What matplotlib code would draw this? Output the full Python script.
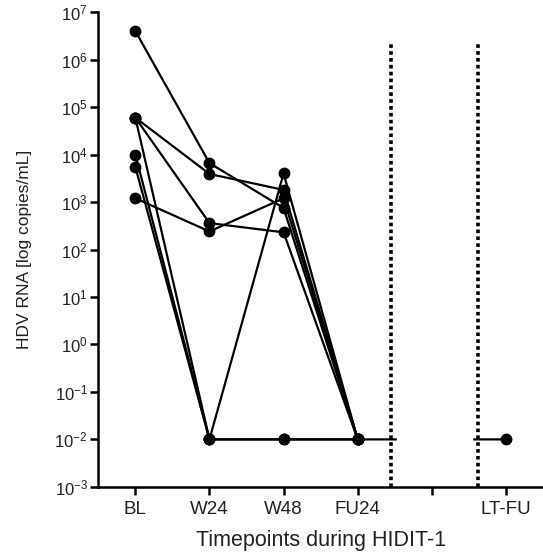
import numpy as np
import matplotlib
matplotlib.use("Agg")
import matplotlib.pyplot as plt
from matplotlib.ticker import FixedLocator, NullLocator

plt.rcParams['font.family'] = ['Liberation Sans', 'DejaVu Sans']
plt.rcParams['mathtext.fontset'] = 'custom'
plt.rcParams['mathtext.rm'] = 'Liberation Sans'
plt.rcParams['mathtext.it'] = 'Liberation Sans'
plt.rcParams['mathtext.bf'] = 'Liberation Sans'

timepoints = ["BL", "W24", "W48", "FU24", "", "LT-FU"]
xpos = [1, 2, 3, 4, 5, 6]

nan = np.nan
# HDV RNA per patient at BL, W24, W48, FU24, (gap), LT-FU
p1 = [4.0e6, 6.6e3, 7.5e2, 1e-2, nan, nan]
p2 = [6.0e4, 3.9e3, 1.8e3, 1e-2, nan, nan]
p3 = [6.0e4, 3.6e2, 2.3e2, 1e-2, nan, nan]
p4 = [1.2e3, 2.4e2, 1.2e3, 1e-2, nan, nan]
p5 = [1.0e4, 1e-2, 4.0e3, 1e-2, nan, nan]
p6 = [5.5e3, 1e-2, 1e-2, 1e-2, nan, 1e-2]
p7 = [6.0e4, 1e-2, 1e-2, 1e-2, nan, nan]
patients = [p1, p2, p3, p4, p5, p6, p7]

yticks = [10.0 ** k for k in range(-3, 8)]
ytick_labels = [r"$\mathregular{10^{%d}}$" % k for k in range(-3, 8)]

fig = plt.figure(figsize=(5.43, 5.52), dpi=100)
ax = fig.add_axes([0.181, 0.118, 0.819, 0.86])

for p in patients:
    x = np.array(xpos, dtype=float)
    y = np.array(p, dtype=float)
    m = ~np.isnan(y)
    ax.plot(x[m], y[m], color='black', lw=1.6, marker='o', ms=7.5,
            markerfacecolor='black', markeredgecolor='black', zorder=3,
            clip_on=False)

# gap between the study phase and long-term follow-up
ax.axvspan(4.53, 5.54, ymin=0.01, ymax=1, color='white', zorder=4)
for xv in [4.45, 5.62]:
    ax.axvline(xv, ymin=0, ymax=0.94, color='black', lw=2.6,
               linestyle=(0, (1, 0.9)), zorder=5)

ax.set_yscale('log')
ax.set_ylim(1e-3, 1e7)
ax.set_xlim(0.5, 6.5)
ax.yaxis.set_major_locator(FixedLocator(yticks))
ax.yaxis.set_minor_locator(NullLocator())
ax.set_yticklabels(ytick_labels)
ax.set_xticks(xpos)
ax.set_xticklabels(timepoints)

for s in ['top', 'right']:
    ax.spines[s].set_visible(False)
for s in ['left', 'bottom']:
    ax.spines[s].set_linewidth(1.8)
    ax.spines[s].set_color('black')
    ax.spines[s].set_zorder(6)

ax.tick_params(axis='both', which='major', direction='out', length=6,
               width=1.8, color='black')
ax.tick_params(axis='y', labelsize=12, pad=1.5, labelcolor='#222222')
ax.tick_params(axis='x', labelsize=13.5, pad=4, labelcolor='#222222')

ax.set_ylabel("HDV RNA [log copies/mL]", fontsize=12.5, labelpad=16,
              color='#222222')
ax.set_xlabel("Timepoints during HIDIT-1", fontsize=15.5, labelpad=9,
              color='#222222')

fig.savefig("out.png", dpi=100)
